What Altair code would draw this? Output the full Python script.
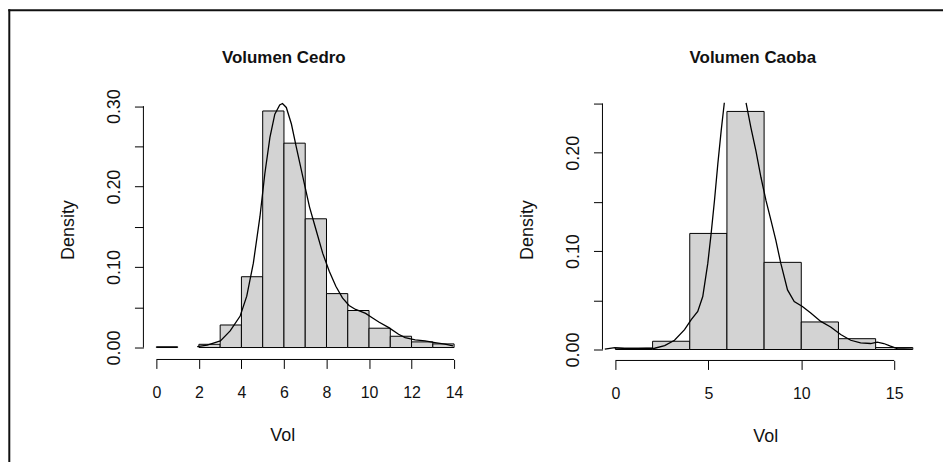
import altair as alt
import pandas as pd

FONT = "Liberation Sans, Arial"

# ---- Volumen Cedro: histogram (density scale) ----
cedro_bin_start = [0, 2, 3, 4, 5, 6, 7, 8, 9, 10, 11, 12, 13]
cedro_bin_end = [1, 3, 4, 5, 6, 7, 8, 9, 10, 11, 12, 13, 14]
cedro_density = [0.001, 0.004, 0.028, 0.088, 0.294, 0.254, 0.160, 0.067,
                 0.046, 0.024, 0.014, 0.007, 0.0045]

# density curve
cedro_curve_x = [1.92, 2.39, 3.01, 3.47, 3.94, 4.25, 4.56, 4.87, 5.10, 5.34,
                 5.57, 5.80, 5.93, 6.11, 6.35, 6.58, 6.89, 7.20, 7.51, 7.82,
                 8.13, 8.44, 8.75, 9.06, 9.37, 9.84, 10.15, 10.46, 10.93,
                 11.39, 11.70, 12.17, 12.63, 13.10, 13.57, 13.95]
cedro_curve_y = [0.0012, 0.0029, 0.0082, 0.0206, 0.0391, 0.0638, 0.1049,
                 0.1626, 0.2160, 0.2613, 0.2901, 0.3016, 0.3033, 0.2984,
                 0.2778, 0.2490, 0.2119, 0.1749, 0.1461, 0.1173, 0.0947,
                 0.0761, 0.0617, 0.0523, 0.0473, 0.0424, 0.0370, 0.0317,
                 0.0247, 0.0165, 0.0123, 0.0095, 0.0082, 0.0062, 0.0041,
                 0.0021]

# ---- Volumen Caoba ----
caoba_bin_start = [0, 2, 4, 6, 8, 10, 12, 14]
caoba_bin_end = [2, 4, 6, 8, 10, 12, 14, 16]
caoba_density = [0.0015, 0.0084, 0.118, 0.242, 0.0886, 0.028, 0.011, 0.002]

# curve leaves the top of the plot between the two segments
caoba_curve_seg = ["a"] * 17 + ["b"] * 24
caoba_curve_x = [-0.57, -0.03, 0.50, 1.22, 2.11, 2.65, 3.18, 3.72, 4.08, 4.43,
                 4.70, 4.97, 5.15, 5.33, 5.51, 5.69, 5.86,
                 7.03, 7.29, 7.56, 7.83, 8.10, 8.37, 8.63, 8.90, 9.26, 9.62,
                 10.06, 10.51, 11.05, 11.58, 12.12, 12.66, 13.19, 13.73,
                 14.09, 14.44, 14.80, 15.16, 15.52, 15.96]
caoba_curve_y = [0.0003, 0.002, 0.001, 0.001, 0.0013, 0.004, 0.0094, 0.0202,
                 0.0303, 0.0387, 0.0539, 0.0875, 0.1178, 0.1515, 0.1886,
                 0.2222, 0.2508,
                 0.2508, 0.2256, 0.2020, 0.1751, 0.1515, 0.1313, 0.1111,
                 0.0875, 0.0606, 0.0488, 0.0438, 0.0370, 0.0286, 0.0229,
                 0.0152, 0.0094, 0.0067, 0.0061, 0.0074, 0.0061, 0.0034,
                 0.0010, 0.0007, 0.0003]

cedro_xticks = [0, 2, 4, 6, 8, 10, 12, 14]
cedro_yticks = [0, 0.05, 0.10, 0.15, 0.20, 0.25, 0.30]
caoba_xticks = [0, 5, 10, 15]
caoba_yticks = [0, 0.05, 0.10, 0.15, 0.20, 0.25]

W1, H1 = 299, 245
W2, H2 = 280, 247
Y1_MAX = 245 / 808.0
Y2_MAX = 0.25

XLABEL_SIZE = 16
YLABEL_SIZE = 18
TITLE_SIZE = 18
TXT = "#111111"


def make_panel(title, bins, curve, xdom, ydom, W, H, xticks, yticks,
               xoff, yoff, title_x, xtitle_x, border=False):
    xs = alt.Scale(domain=xdom, nice=False, zero=False)
    ys = alt.Scale(domain=ydom, nice=False, zero=False)
    xaxis = alt.Axis(values=xticks, domain=False, grid=False, tickSize=9,
                     tickColor="black", tickWidth=1, labelFont=FONT,
                     labelFontSize=XLABEL_SIZE, labelColor=TXT,
                     labelPadding=16, labelFlush=False, labelOverlap=False,
                     offset=xoff, title=None)
    yaxis = alt.Axis(values=yticks, domain=False, grid=False, tickSize=9,
                     tickColor="black", tickWidth=1, labelFont=FONT,
                     labelFontSize=YLABEL_SIZE, labelColor=TXT,
                     labelAngle=270, labelAlign="center",
                     labelBaseline="bottom", labelPadding=11,
                     labelFlush=False, labelOverlap=False,
                     labelExpr="round(datum.value*100) % 10 == 0 ? format(datum.value, '.2f') : ''",
                     offset=yoff, title=None)

    bars = alt.Chart(bins).mark_rect(fill="#D3D3D3", stroke="black",
                                     strokeWidth=1).encode(
        x=alt.X("x0:Q", scale=xs, axis=xaxis),
        x2="x1:Q",
        y=alt.Y("d:Q", scale=ys, axis=yaxis),
        y2="z:Q",
    )
    line = alt.Chart(curve).mark_line(color="black", strokeWidth=1.3).encode(
        x=alt.X("x:Q", scale=xs, axis=xaxis),
        y=alt.Y("y:Q", scale=ys, axis=yaxis),
        detail="seg:N",
        order="i:Q",
    )
    ax_df = pd.DataFrame({"x0": [xticks[0]], "x1": [xticks[-1]],
                          "y0": [yticks[0]], "y1": [yticks[-1]]})
    xline = alt.Chart(ax_df).mark_rule(color="black", strokeWidth=1).encode(
        x=alt.X("x0:Q", scale=xs, axis=xaxis), x2="x1:Q",
        y=alt.value(H + xoff))
    yline = alt.Chart(ax_df).mark_rule(color="black", strokeWidth=1).encode(
        y=alt.Y("y0:Q", scale=ys, axis=yaxis), y2="y1:Q",
        x=alt.value(-yoff))

    txt = pd.DataFrame({"t": [title], "a": ["Vol"], "b": ["Density"]})
    ttl = alt.Chart(txt).mark_text(font=FONT, fontSize=17, fontWeight="bold",
                                   color=TXT, align="center",
                                   baseline="middle").encode(
        text="t:N", x=alt.value(title_x), y=alt.value(-46))
    xt = alt.Chart(txt).mark_text(font=FONT, fontSize=TITLE_SIZE,
                                  color=TXT, align="center",
                                  baseline="middle").encode(
        text="a:N", x=alt.value(xtitle_x), y=alt.value(H + xoff + 77))
    yt = alt.Chart(txt).mark_text(font=FONT, fontSize=TITLE_SIZE,
                                  color=TXT, align="center",
                                  baseline="middle", angle=270).encode(
        text="b:N", x=alt.value(-yoff - 75), y=alt.value(127))

    layers = [bars, line, xline, yline, ttl, xt, yt]
    if border:
        one = pd.DataFrame({"k": [0]})
        bl = -147.7
        bt = -93.7
        vb = alt.Chart(one).mark_rule(color="#111111", strokeWidth=2).encode(
            x=alt.value(bl), y=alt.value(bt - 1), y2=alt.value(360))
        hb = alt.Chart(one).mark_rule(color="#111111", strokeWidth=2).encode(
            y=alt.value(bt), x=alt.value(bl - 1), x2=alt.value(790))
        layers += [vb, hb]
    return alt.layer(*layers).properties(
        width=W, height=H, view=alt.ViewBackground(stroke="transparent",
                                                   strokeWidth=0))


cedro_bins = pd.DataFrame({"x0": cedro_bin_start, "x1": cedro_bin_end,
                           "d": cedro_density})
cedro_bins["z"] = 0.0
cedro_curve = pd.DataFrame({"x": cedro_curve_x, "y": cedro_curve_y})
cedro_curve["seg"] = "a"
cedro_curve["i"] = range(len(cedro_curve))

caoba_bins = pd.DataFrame({"x0": caoba_bin_start, "x1": caoba_bin_end,
                           "d": caoba_density})
caoba_bins["z"] = 0.0
caoba_curve = pd.DataFrame({"x": caoba_curve_x, "y": caoba_curve_y,
                            "seg": caoba_curve_seg})
caoba_curve["i"] = range(len(caoba_curve))

left = make_panel("Volumen Cedro", cedro_bins, cedro_curve, [0, 14],
                  [0, Y1_MAX], W1, H1, cedro_xticks, cedro_yticks,
                  12, 13, 128, 127, border=True)
right = make_panel("Volumen Caoba", caoba_bins, caoba_curve, [0, 15],
                   [0, Y2_MAX], W2, H2, caoba_xticks, caoba_yticks,
                   11, 13, 138, 151)

chart = alt.hconcat(left, right, spacing=162, bounds="flush").properties(
    padding={"left": -1, "top": -1, "right": 0, "bottom": 0}
).configure_view(stroke="transparent", strokeWidth=0).configure(
    background="white")

chart.save("out.html", embed_options={"renderer": "svg", "actions": False})
